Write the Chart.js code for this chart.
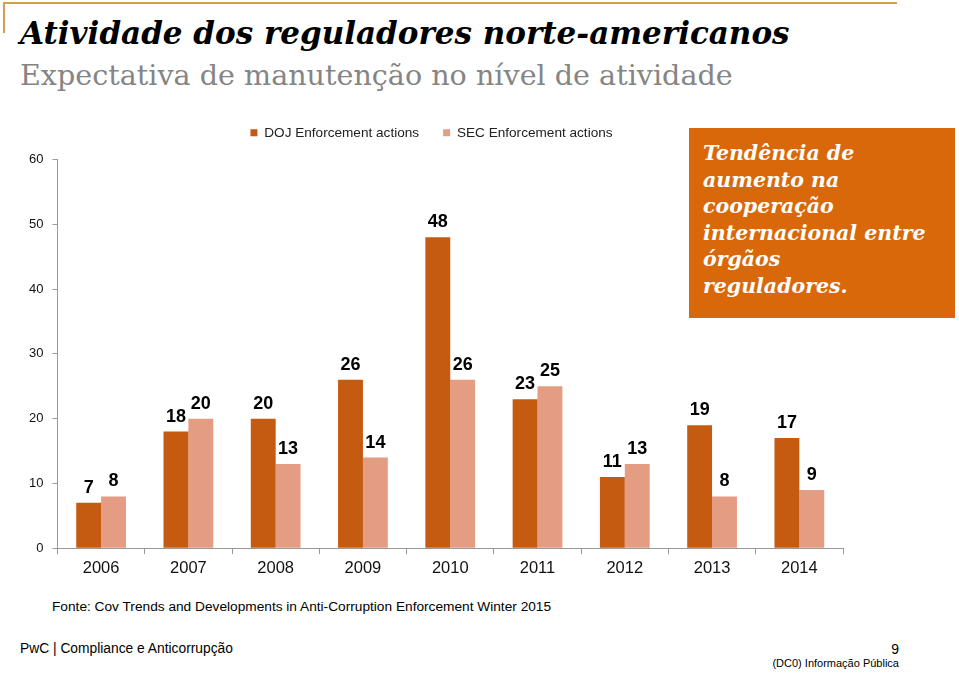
<!DOCTYPE html>
<html>
<head>
<meta charset="utf-8">
<script src="https://cdn.jsdelivr.net/npm/chart.js@4"></script>
<style>
  body { margin: 0; width: 959px; height: 673px; background: #fff; position: relative; overflow: hidden; font-family: "Liberation Sans", Arial, sans-serif; }
  .topline { position: absolute; left: 3px; top: 2px; width: 894px; height: 2px; background: #D2A04E; }
  .sideline { position: absolute; left: 3px; top: 2px; width: 2px; height: 31px; background: #D2A04E; }
  .title { position: absolute; left: 20px; top: 15px; font-family: "DejaVu Serif", serif; font-weight: bold; font-style: italic; font-size: 31px; color: #000; white-space: nowrap; }
  .subtitle { position: absolute; left: 20px; top: 58px; font-family: "DejaVu Serif", serif; font-size: 28.6px; color: #858585; white-space: nowrap; }
  .box { position: absolute; left: 689px; top: 128px; width: 266px; height: 190px; background: #D9680A; }
  .box p { margin: 0; position: absolute; left: 14px; top: 12px; font-family: "DejaVu Serif", serif; font-weight: bold; font-style: italic; font-size: 20.5px; line-height: 26.5px; color: #fff; white-space: nowrap; }
  .fonte { position: absolute; left: 52px; top: 599px; font-size: 13.7px; color: #000; }
  .pwc { position: absolute; left: 20px; top: 641px; font-size: 13.8px; color: #000; }
  .page { position: absolute; right: 60px; top: 641px; font-size: 14px; color: #000; }
  .dc0 { position: absolute; right: 60px; top: 657px; font-size: 11px; color: #000; }
  #wrap { position: absolute; left: 0; top: 100px; width: 866px; height: 490px; }
</style>
</head>
<body>
<div class="topline"></div>
<div class="sideline"></div>
<div class="title">Atividade dos reguladores norte-americanos</div>
<div class="subtitle">Expectativa de manutenção no nível de atividade</div>

<div id="wrap"><canvas id="chart"></canvas></div>

<div class="box"><p>Tendência de<br>aumento na<br>cooperação<br>internacional entre<br>órgãos<br>reguladores.</p></div>

<div class="fonte">Fonte: Cov Trends and Developments in Anti-Corruption Enforcement Winter 2015</div>
<div class="pwc">PwC | Compliance e Anticorrupção</div>
<div class="page">9</div>
<div class="dc0">(DC0) Informação Pública</div>

<script>
const years = ['2006', '2007', '2008', '2009', '2010', '2011', '2012', '2013', '2014'];
const dojActions = [7, 18, 20, 26, 48, 23, 11, 19, 17];
const secActions = [8, 20, 13, 14, 26, 25, 13, 8, 9];

// numbers above the bars
const barLabels = {
    id: 'barLabels',
    afterDatasetsDraw(chart) {
        const ctx = chart.ctx;
        ctx.save();
        ctx.font = 'bold 18px "Liberation Sans", Arial, sans-serif';
        ctx.fillStyle = '#000';
        ctx.textAlign = 'center';
        ctx.textBaseline = 'alphabetic';
        chart.data.datasets.forEach((ds, i) => {
            chart.getDatasetMeta(i).data.forEach((bar, j) => {
                ctx.fillText(ds.data[j], bar.x, bar.y - 10);
            });
        });
        ctx.restore();
    }
};

// a bit more room under the legend
const legendSpace = {
    id: 'legendSpace',
    beforeInit(chart) {
        const fit = chart.legend.fit;
        chart.legend.fit = function () {
            fit.bind(chart.legend)();
            this.height += 10;
        };
    }
};

const ctx = document.getElementById('chart').getContext('2d');
new Chart(ctx, {
    type: 'bar',
    data: {
        labels: years,
        datasets: [{
            label: 'DOJ Enforcement actions',
            data: dojActions,
            backgroundColor: '#C55A11'
        }, {
            label: 'SEC Enforcement actions',
            data: secActions,
            backgroundColor: '#E49C83'
        }]
    },
    options: {
        responsive: true,
        maintainAspectRatio: false,
        animation: false,
        categoryPercentage: 0.57,
        barPercentage: 1.0,
        layout: {
            padding: { left: 20, right: 23, top: 2, bottom: 8 }
        },
        plugins: {
            legend: {
                labels: {
                    boxWidth: 7,
                    boxHeight: 7,
                    padding: 24,
                    color: '#222',
                    font: { family: '"Liberation Sans", Arial, sans-serif', size: 13.6 }
                }
            },
            tooltip: { enabled: false }
        },
        scales: {
            x: {
                grid: {
                    drawOnChartArea: false,
                    tickLength: 6,
                    color: '#999'
                },
                border: { color: '#999' },
                ticks: {
                    color: '#111',
                    padding: 4,
                    font: { family: '"Liberation Sans", Arial, sans-serif', size: 16.5 }
                }
            },
            y: {
                min: 0,
                max: 60,
                grid: {
                    drawOnChartArea: false,
                    tickLength: 5,
                    color: '#999'
                },
                border: { color: '#999' },
                ticks: {
                    stepSize: 10,
                    color: '#111',
                    padding: 9,
                    font: { family: '"Liberation Sans", Arial, sans-serif', size: 13 }
                }
            }
        }
    },
    plugins: [barLabels, legendSpace]
});
</script>
</body>
</html>
